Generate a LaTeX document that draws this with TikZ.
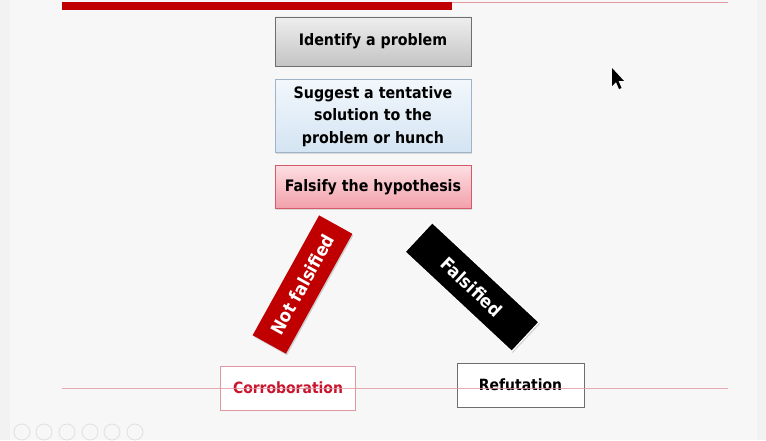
\documentclass[tikz,border=0pt]{standalone}
\usepackage{fontspec}
\setmainfont{DejaVu Sans Condensed}
\usepackage{xcolor}
\usetikzlibrary{positioning,shadows}

\definecolor{slidered}{RGB}{192,0,0}
\definecolor{slidepink}{RGB}{226,150,160}
\definecolor{boxgray}{RGB}{110,110,110}
\definecolor{boxblue}{RGB}{160,180,200}
\definecolor{boxrose}{RGB}{210,90,105}
\definecolor{corrored}{RGB}{200,20,45}
\definecolor{graytop}{RGB}{238,238,238}
\definecolor{graybot}{RGB}{196,196,196}
\definecolor{bluetop}{RGB}{242,247,252}
\definecolor{bluebot}{RGB}{212,228,242}
\definecolor{rosetop}{RGB}{252,222,226}
\definecolor{rosebot}{RGB}{242,160,170}

\begin{document}
\begin{tikzpicture}[
x=1pt,y=1pt,
node distance=12pt,
font=\bfseries\fontsize{15.8}{22.5}\selectfont,
stepbox/.style={
    rectangle,
    minimum width=196pt,
    line width=0.8pt,
    align=center,
    drop shadow={shadow xshift=1pt,shadow yshift=-1pt,opacity=0.25}
},
tagbox/.style={
    rectangle,
    minimum height=38pt,
    text=white,
    font=\bfseries\fontsize{18}{20}\selectfont,
    drop shadow={shadow xshift=1pt,shadow yshift=-1.5pt,opacity=0.35}
},
endbox/.style={
    rectangle,
    minimum height=44pt,
    line width=0.8pt,
    fill=white,
    font=\bfseries\fontsize{15.5}{18}\selectfont
}
]

% Slide background
\useasboundingbox (0,0) rectangle (766,440);
\fill[black!5] (0,0) rectangle (766,440);
\fill[black!3] (10,0) rectangle (757,440);
\fill[slidered] (62,438) rectangle (452,429.5);
\draw[slidepink,line width=0.8pt] (452,438) -- (728,438);

% Main Flow
\node[stepbox,draw=boxgray,top color=graytop,bottom color=graybot,
    minimum height=49pt] at (373,398.5) (identify) {Identify a problem};

\node[stepbox,draw=boxblue,top color=bluetop,bottom color=bluebot,
    minimum height=73pt,below=13pt of identify] (suggest)
{Suggest a tentative\\solution to the\\problem or hunch};

\node[stepbox,draw=boxrose,top color=rosetop,bottom color=rosebot,
    minimum height=43pt,below=of suggest] (falsify) {Falsify the hypothesis};

% Outcomes
\node[tagbox,fill=slidered,minimum width=137pt,rotate=61] at (302.5,155.5)
    (notfals) {Not falsified};

\node[tagbox,fill=black,draw=white,line width=1.2pt,minimum width=146pt,
    minimum height=40pt,rotate=-43] at (472,153) (fals) {Falsified};

% Bottom
\node[endbox,draw=slidepink,text=corrored,minimum width=135pt] at (288,52)
    (corro) {Corroboration};

\node[endbox,draw=boxgray,minimum width=127pt] at (520.5,55)
    (refut) {Refutation};

\draw[slidepink,line width=0.8pt,opacity=0.8] (62,52) -- (728,52);

% Pointer and slide controls
\fill[black] (612,372) -- (612,354) -- (616,358) -- (619,351) -- (621.5,352)
    -- (618.5,359) -- (624,359) -- cycle;
\foreach \cx in {22,44,67,90,112,135}
    \draw[black!12,line width=0.8pt] (\cx,8) circle (8);

\end{tikzpicture}
\end{document}
